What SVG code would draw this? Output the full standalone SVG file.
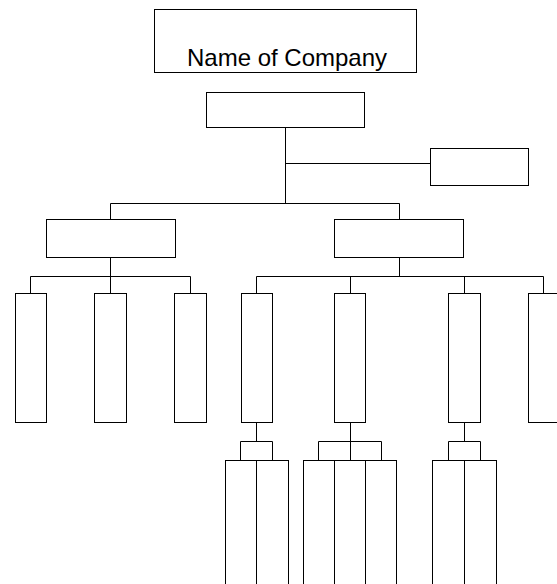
<svg xmlns="http://www.w3.org/2000/svg" width="557" height="584" viewBox="0 0 557 584">
<style>
rect{fill:#fff;stroke:#000;stroke-width:1}
#connectors path{fill:none;stroke:#000;stroke-width:1}
text{font-family:"Liberation Sans",Arial,sans-serif;font-size:24px;fill:#000}
</style>
<rect x="0" y="0" width="557" height="584" style="stroke:none"/>
<g id="connectors">
<path d="M285.5 128V203.5 M285.5 163.5H430.5 M110.5 203.5H399.5 M110.5 203.5V219.5 M399.5 203.5V219.5"/>
<path d="M110.5 257.5V276.5 M30.5 276.5H190.5 M30.5 276.5V293.5 M110.5 276.5V293.5 M190.5 276.5V293.5"/>
<path d="M399.5 257.5V276.5 M256.5 276.5H543.5 M256.5 276.5V293.5 M350.5 276.5V293.5 M464.5 276.5V293.5 M543.5 276.5V293.5"/>
<path d="M256.5 422.5V441.5 M240.5 441.5H272.5 M240.5 441.5V460.5 M272.5 441.5V460.5"/>
<path d="M350.5 422.5V460.5 M318.5 441.5H381.5 M318.5 441.5V460.5 M381.5 441.5V460.5"/>
<path d="M464.5 422.5V441.5 M448.5 441.5H480.5 M448.5 441.5V460.5 M480.5 441.5V460.5"/>
</g>
<g id="company"><rect x="154.5" y="9.5" width="262" height="63"/><text x="287" y="66" text-anchor="middle">Name of Company</text></g>
<g id="top"><rect x="206.5" y="92.5" width="158" height="35"/></g>
<g id="assistant"><rect x="430.5" y="148.5" width="98" height="37"/></g>
<g id="left-manager"><rect x="46.5" y="219.5" width="129" height="38"/></g>
<g id="right-manager"><rect x="334.5" y="219.5" width="129" height="38"/></g>
<g id="l1"><rect x="15.5" y="293.5" width="31" height="129"/></g>
<g id="l2"><rect x="94.5" y="293.5" width="32" height="129"/></g>
<g id="l3"><rect x="174.5" y="293.5" width="32" height="129"/></g>
<g id="r1"><rect x="241.5" y="293.5" width="31" height="129"/></g>
<g id="r2"><rect x="334.5" y="293.5" width="31" height="129"/></g>
<g id="r3"><rect x="448.5" y="293.5" width="32" height="129"/></g>
<g id="r4"><rect x="528.5" y="293.5" width="32" height="129"/></g>
<g id="a1"><rect x="225.5" y="460.5" width="31" height="130"/></g>
<g id="a2"><rect x="256.5" y="460.5" width="32" height="130"/></g>
<g id="b1"><rect x="303.5" y="460.5" width="31" height="130"/></g>
<g id="b2"><rect x="334.5" y="460.5" width="31" height="130"/></g>
<g id="b3"><rect x="365.5" y="460.5" width="31" height="130"/></g>
<g id="c1"><rect x="432.5" y="460.5" width="32" height="130"/></g>
<g id="c2"><rect x="464.5" y="460.5" width="32" height="130"/></g>
</svg>
